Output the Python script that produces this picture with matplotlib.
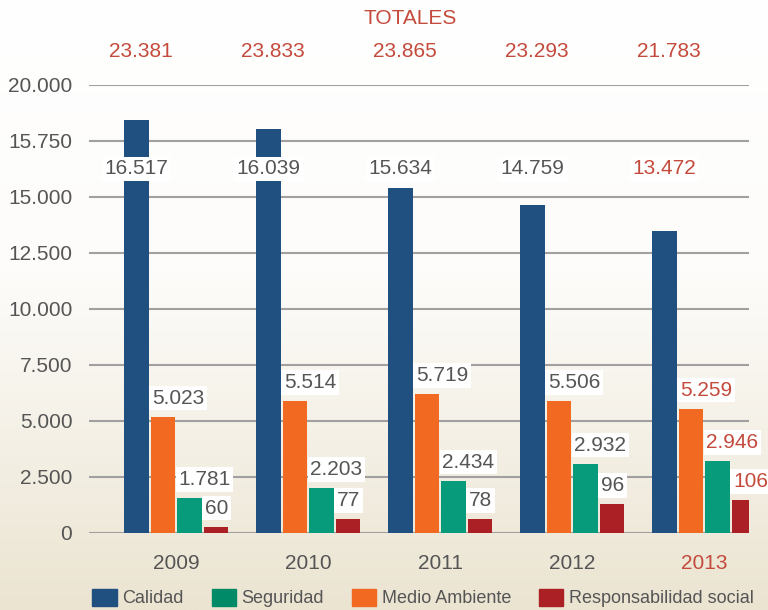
import numpy as np
import matplotlib
matplotlib.use("Agg")
import matplotlib.pyplot as plt
from matplotlib.colors import LinearSegmentedColormap
from matplotlib.patches import Patch

plt.rcParams["font.family"] = ["Liberation Sans", "DejaVu Sans"]

years = ["2009", "2010", "2011", "2012", "2013"]
totales = ["23.381", "23.833", "23.865", "23.293", "21.783"]

# bar heights as drawn in the picture (they do not follow the printed labels)
calidad = [18440, 18040, 15400, 14640, 13480]
medio = [5180, 5890, 6200, 5890, 5540]
seguridad = [1560, 2000, 2320, 3080, 3210]
responsabilidad = [270, 620, 620, 1290, 1470]

calidad_lbl = ["16.517", "16.039", "15.634", "14.759", "13.472"]
medio_lbl = ["5.023", "5.514", "5.719", "5.506", "5.259"]
seguridad_lbl = ["1.781", "2.203", "2.434", "2.932", "2.946"]
responsabilidad_lbl = ["60", "77", "78", "96", "106"]

y_ticks = [0, 2500, 5000, 7500, 10000, 12500, 15000, 17500, 20000]
y_ticklabels = ["0", "2.500", "5.000", "7.500", "10.000", "12.500", "15.000", "15.750", "20.000"]

BLUE = "#1f507f"
ORANGE = "#f26a21"
GREEN = "#079a7b"
RED = "#ab2024"
GRAY = "#555555"
HIGHLIGHT = "#c44a3c"
FS = 15

fig = plt.figure(figsize=(7.68, 6.10), dpi=100)

# background gradient white -> beige
bg = fig.add_axes([0, 0, 1, 1], zorder=-10)
cmap = LinearSegmentedColormap.from_list("bg", [(0, "#ffffff"), (0.45, "#fdfcfa"), (1, "#ebe4d1")])
grad = np.linspace(0, 1, 256).reshape(-1, 1)
bg.imshow(grad, aspect="auto", cmap=cmap, extent=[0, 1, 0, 1], origin="upper")
bg.axis("off")

ax = fig.add_axes([89 / 768, 1 - 533 / 610, 660 / 768, 448 / 610])
ax.patch.set_alpha(0)

x = np.arange(len(years))
w = 0.185
series = [
    (calidad, -0.30, BLUE),
    (medio, -0.10, ORANGE),
    (seguridad, 0.10, GREEN),
    (responsabilidad, 0.30, RED),
]
for vals, off, col in series:
    ax.bar(x + off, vals, w, color=col, zorder=3)

ax.set_xlim(-0.66, 4.34)
ax.set_ylim(0, 20000)
ax.set_yticks(y_ticks)
ax.set_yticklabels(y_ticklabels)
ax.tick_params(axis="y", length=0, labelsize=FS, labelcolor=GRAY, pad=12)
ax.set_xticks([])
ax.grid(axis="y", color="#a0a0a0", linewidth=1.5, zorder=1)
for s in ax.spines.values():
    s.set_visible(False)

box = dict(facecolor="white", edgecolor="none", pad=2)
for i in range(len(years)):
    col = HIGHLIGHT if i == len(years) - 1 else GRAY
    ax.text(x[i] - 0.30, 16250, calidad_lbl[i], ha="center", va="center",
            fontsize=FS, color=col, bbox=box, zorder=5)
    for vals, lbls, off in [(medio, medio_lbl, -0.10),
                            (seguridad, seguridad_lbl, 0.10),
                            (responsabilidad, responsabilidad_lbl, 0.30)]:
        ax.annotate(lbls[i], (x[i] + off - w / 2, vals[i]), xytext=(1, 13.5),
                    textcoords="offset points", ha="left", va="center",
                    fontsize=FS, color=col, bbox=box, zorder=5)
    ax.text(x[i] - 0.27, 1.074, totales[i], transform=ax.get_xaxis_transform(),
            ha="center", va="center", fontsize=FS, color=HIGHLIGHT)
    ax.text(x[i], -0.067, years[i], transform=ax.get_xaxis_transform(),
            ha="center", va="center", fontsize=FS, color=col)

fig.text(410 / 768, 1 - 18 / 610, "TOTALES", ha="center", va="center",
         fontsize=FS, color=HIGHLIGHT)

handles = [Patch(color=BLUE, label="Calidad"),
           Patch(color="#008a68", label="Seguridad"),
           Patch(color=ORANGE, label="Medio Ambiente"),
           Patch(color=RED, label="Responsabilidad social")]
fig.legend(handles=handles, loc="center", bbox_to_anchor=(423 / 768, 1 - 598 / 610),
           ncol=4, frameon=False, fontsize=13, labelcolor=GRAY,
           handlelength=1.35, handleheight=1.1, handletextpad=0.3, columnspacing=1.55)

fig.savefig("out.png", dpi=100)
